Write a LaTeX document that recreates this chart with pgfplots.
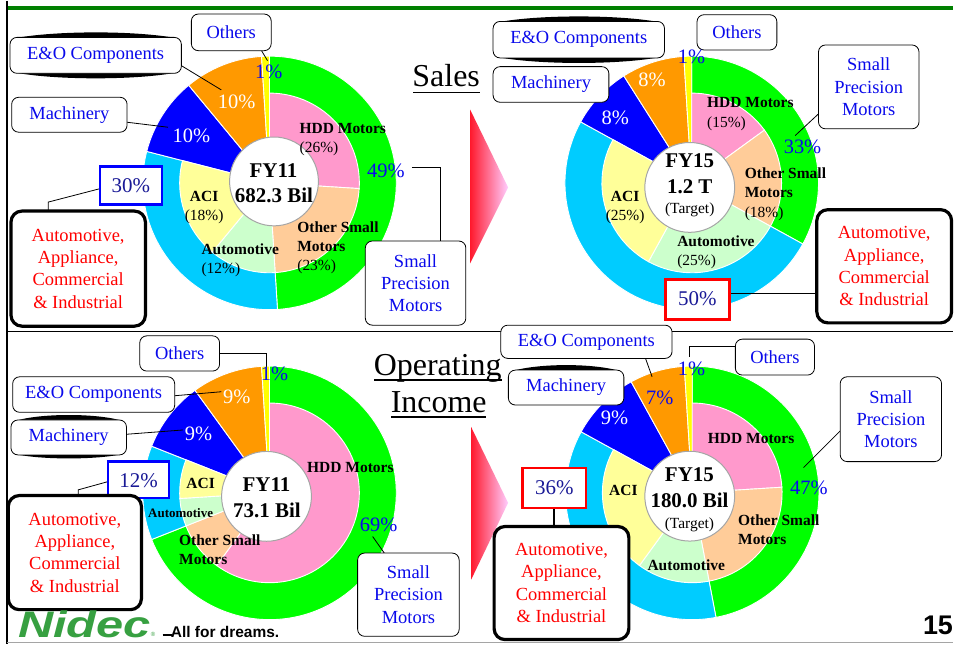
\documentclass[border=0pt]{standalone}
\usepackage{pgfplots}
\pgfplotsset{compat=1.18}
\usepackage{graphicx}
\usepackage{fontspec}
\setmainfont{Liberation Serif}
\newfontfamily\sansfont{Liberation Sans}

\definecolor{sgreen}{RGB}{0,255,0}
\definecolor{scyan}{RGB}{0,204,255}
\definecolor{sblue}{RGB}{0,0,255}
\definecolor{sorange}{RGB}{255,153,0}
\definecolor{syellow}{RGB}{255,255,0}
\definecolor{spink}{RGB}{255,153,204}
\definecolor{speach}{RGB}{255,204,153}
\definecolor{slgreen}{RGB}{204,255,204}
\definecolor{slyellow}{RGB}{255,255,153}
\definecolor{tblue}{RGB}{10,10,235}
\definecolor{tnavy}{RGB}{25,25,150}
\definecolor{tred}{RGB}{255,0,0}
\definecolor{cgray}{RGB}{165,165,165}
\definecolor{lgreen}{RGB}{0,128,0}
\definecolor{logogreen}{RGB}{55,160,65}
\definecolor{ared}{RGB}{255,25,45}
\definecolor{apink}{RGB}{255,205,255}

\newcommand{\fs}[2]{\fontsize{#1}{#2}\selectfont}

% draws the sectors of one ring (full wedges from the centre), values in percent
\newcommand{\ring}[4]{%
  \gdef\cum{0}%
  \foreach \v/\c in {#4}{%
    \pgfmathsetmacro\aA{90-3.6*\cum}%
    \pgfmathsetmacro\aB{90-3.6*(\cum+\v)}%
    \pgfmathsetmacro\newcum{\cum+\v}%
    \xdef\cum{\newcum}%
    \edef\next{\noexpand\fill[\c,draw=white,line width=0.9pt] (axis cs:#1,#2) -- ++(\aA:#3pt) arc[start angle=\aA,end angle=\aB,radius=#3pt] -- cycle;}%
    \next
  }%
}

\tikzset{
  lbox/.style={draw=black,line width=0.8pt,rounded corners=7pt,fill=white},
  bigbox/.style={draw=black,line width=3.2pt,rounded corners=11pt,fill=white},
  lbl/.style={font=\fs{18.5}{22.4},text=tblue,align=center,inner sep=0pt},
  rlbl/.style={font=\fs{18.5}{22.4},text=tred,align=center,inner sep=0pt},
  pwt/.style={font=\fs{20.5}{24},text=white,anchor=base,inner sep=0pt},
  pbt/.style={font=\fs{20.5}{24},text=tblue,anchor=base,inner sep=0pt},
  pnt/.style={font=\fs{21}{24},text=tnavy,anchor=base,inner sep=0pt},
  ilb/.style={font=\fs{15.5}{18}\bfseries,text=black,anchor=base,inner sep=0pt},
  iln/.style={font=\fs{15.5}{18},text=black,anchor=base,inner sep=0pt},
  ctb/.style={font=\fs{21}{24}\bfseries,text=black,anchor=base,inner sep=0pt},
  ldr/.style={draw=black,line width=0.8pt},
}

\begin{document}
\begin{tikzpicture}
\begin{axis}[x=1pt,y=1pt,y dir=reverse,xmin=0,xmax=955,ymin=0,ymax=644,
  hide axis,clip=false,anchor=origin]
\fill[white] (0,0) rectangle (955,644);

% ---------- donuts ----------
% FY11 sales
\ring{270}{182.5}{127}{49/sgreen,30/scyan,10/sblue,10/sorange,1/syellow}
\ring{270}{182.5}{90}{26/spink,23/speach,12/slgreen,18/slyellow}
\draw[fill=white,draw=cgray,line width=1pt] (274.5,181) circle[radius=44.5pt];
% FY15 sales
\ring{693}{182.5}{127}{33/sgreen,50/scyan,8/sblue,8/sorange,1/syellow}
\ring{693}{182.5}{90}{15/spink,18/speach,25/slgreen,25/slyellow}
\draw[fill=white,draw=cgray,line width=1pt] (691,187) circle[radius=45pt];
% FY11 operating income
\ring{270}{493}{127}{69/sgreen,12/scyan,9/sblue,9/sorange,1/syellow}
\ring{270}{493}{90}{60/spink,9/speach,5/slgreen,7/slyellow}
\draw[fill=white,draw=cgray,line width=1pt] (267,496.5) circle[radius=45pt];
% FY15 operating income
\ring{693.5}{493}{127}{47/sgreen,36/scyan,9/sblue,7/sorange,1/syellow}
\ring{693.5}{493}{90}{24/spink,23/speach,13/slgreen,23/slyellow}
\draw[fill=white,draw=cgray,line width=1pt] (691,496.3) circle[radius=45pt];

% ---------- frame ----------
\draw[black,line width=1.5pt] (7,0) -- (7,644);
\draw[lgreen,line width=3.5pt] (7.75,7.5) -- (955,7.5);
\draw[black,line width=1pt] (7,331) -- (955,331);
\draw[cgray,line width=1pt] (7,642.5) -- (955,642.5);

% ---------- titles and arrows ----------
\node[anchor=base,inner sep=0pt,font=\fs{32}{36}] at (447,86) {Sales};
\draw[line width=1.3pt] (414,92) -- (481,92);
\node[anchor=base,inner sep=0pt,font=\fs{32}{36}] at (438.5,375) {Operating};
\draw[line width=1.3pt] (375,380) -- (503,380);
\node[anchor=base,inner sep=0pt,font=\fs{32}{36}] at (439.5,412) {Income};
\draw[line width=1.3pt] (392,417) -- (487,417);
\shade[left color=ared,right color=apink] (471,109) -- (509,187) -- (471,263) -- cycle;
\shade[left color=ared,right color=apink] (472,427) -- (509,503) -- (472,580) -- cycle;

% ================= FY11 sales labels =================
\draw[ldr] (262,50) -- (268,60);
\draw[lbox] (191.7,13.3) rectangle (271.7,50);
\node[lbl] at (231.7,31.7) {Others};
\fill[black] (14,37.7) .. controls (55,29.7) and (137,29.7) .. (178,37.7) -- cycle;
\fill[black] (14,71.7) .. controls (55,79.7) and (137,79.7) .. (178,71.7) -- cycle;
\draw[ldr] (181.7,65) -- (221.7,89.3);
\draw[lbox] (10,36.7) rectangle (181.7,72.7);
\node[lbl] at (95.8,54.7) {E\&O Components};
\draw[ldr] (127.3,121.7) -- (168.3,126.7);
\draw[lbox] (11.7,96.7) rectangle (127.3,131.7);
\node[lbl] at (69.5,114.2) {Machinery};
\node[pwt] at (237,108.3) {10\%};
\node[pwt] at (191.7,141.7) {10\%};
\node[pbt] at (269.3,78.3) {1\%};
\node[pbt] at (386.7,176.7) {49\%};
\draw[ldr] (412.7,167.3) -- (441.7,167.3) -- (441.7,240.7);
\draw[lbox] (366,240.7) rectangle (466.7,325);
\node[lbl] at (416.3,282.9) {Small\\Precision\\Motors};
\draw[ldr] (100,188.3) -- (48.3,201.7) -- (48.3,210.7);
\draw[fill=white,draw=sblue,line width=2.5pt] (100,166) rectangle (162.3,204.3);
\node[pnt] at (131.2,191.7) {30\%};
\draw[bigbox] (11,210.7) rectangle (145.7,326);
\node[rlbl] at (78.3,268.4) {Automotive,\\Appliance,\\Commercial\\\& Industrial};
\node[ilb,anchor=base west] at (300,132.7) {HDD Motors};
\node[iln,anchor=base west] at (300,151.7) {(26\%)};
\node[ilb,anchor=base west] at (297.7,231.7) {Other Small};
\node[ilb,anchor=base west] at (297.7,250.7) {Motors};
\node[iln,anchor=base west] at (297.7,270) {(23\%)};
\node[ilb,anchor=base west] at (201.7,254) {Automotive};
\node[iln,anchor=base west] at (201.7,273.3) {(12\%)};
\node[ilb] at (204.5,201) {ACI};
\node[iln] at (204.5,220) {(18\%)};
\node[ctb] at (274,177) {FY11};
\node[ctb] at (274.5,202) {682.3 Bil};

% ================= FY15 sales labels =================
\fill[black] (498,21.7) .. controls (539,13.7) and (621,13.7) .. (662,21.7) -- cycle;
\fill[black] (498,56.3) .. controls (539,64.3) and (621,64.3) .. (662,56.3) -- cycle;
\draw[lbox] (494,20.7) rectangle (665.7,57.3);
\node[lbl] at (579.8,39) {E\&O Components};
\draw[lbox] (698.3,14) rectangle (778.3,49.3);
\node[lbl] at (738.3,31.7) {Others};
\draw[lbox] (494,66) rectangle (610,101.7);
\node[lbl] at (552,83.8) {Machinery};
\node[pwt] at (653.3,86) {8\%};
\node[pwt] at (616.3,124) {8\%};
\node[pbt] at (692.7,62.7) {1\%};
\node[pbt] at (804,153.3) {33\%};
\draw[ldr] (820,113.3) -- (796.7,135);
\draw[lbox] (820,44.3) rectangle (920.7,128.3);
\node[lbl] at (870.3,86.3) {Small\\Precision\\Motors};
\draw[ldr] (730.7,293.3) -- (818.3,293.3);
\draw[fill=white,draw=red,line width=2.5pt] (666.7,279.3) rectangle (730.7,319.3);
\node[pnt] at (698.7,305) {50\%};
\draw[bigbox] (818.3,209.3) rectangle (953.3,322.7);
\node[rlbl] at (885.8,266) {Automotive,\\Appliance,\\Commercial\\\& Industrial};
\node[ilb,anchor=base west] at (708.3,106.7) {HDD Motors};
\node[iln,anchor=base west] at (708.3,127.3) {(15\%)};
\node[ilb,anchor=base west] at (746,178.3) {Other Small};
\node[ilb,anchor=base west] at (746,197.3) {Motors};
\node[iln,anchor=base west] at (746,216.7) {(18\%)};
\node[ilb,anchor=base west] at (678.3,246) {Automotive};
\node[iln,anchor=base west] at (678.3,265.7) {(25\%)};
\node[ilb] at (626.3,201) {ACI};
\node[iln] at (626.3,220) {(25\%)};
\node[ctb] at (691,166.7) {FY15};
\node[ctb] at (691,193.3) {1.2 T};
\node[iln] at (691,213.3) {(Target)};

% ================= FY11 operating income labels =================
\draw[ldr] (220,353.3) -- (266.7,353.3) -- (266.7,370);
\draw[lbox] (140,335.7) rectangle (220,371);
\node[lbl] at (180,353.3) {Others};
\draw[ldr] (175,395.7) -- (221.7,391.7);
\draw[lbox] (12.7,376.7) rectangle (175,412.3);
\node[lbl] at (93.8,394.5) {E\&O Components};
\fill[black] (15,421) .. controls (40,413) and (98,413) .. (123,421) -- cycle;
\fill[black] (15,454) .. controls (40,460) and (98,460) .. (123,454) -- cycle;
\draw[ldr] (126.7,434.3) -- (183.3,430);
\draw[lbox] (11,420) rectangle (126.7,455);
\node[lbl] at (68.8,437.5) {Machinery};
\node[pwt] at (237.3,403.3) {9\%};
\node[pwt] at (199,441) {9\%};
\node[pbt] at (275,380) {1\%};
\node[pbt] at (379.3,531.7) {69\%};
\draw[ldr] (373.3,536.7) -- (385,553.3);
\draw[lbox] (358.3,553.3) rectangle (460,636.7);
\node[lbl] at (409.2,595) {Small\\Precision\\Motors};
\draw[ldr] (108.3,481.7) -- (78.3,490) -- (78.3,495.7);
\draw[fill=white,draw=sblue,line width=2.5pt] (108.3,461.7) rectangle (169.3,498.3);
\node[pnt] at (138.8,487.3) {12\%};
\draw[bigbox] (8.3,495.7) rectangle (141.7,610);
\node[rlbl] at (75,552.8) {Automotive,\\Appliance,\\Commercial\\\& Industrial};
\node[ilb] at (351,472.7) {HDD Motors};
\node[ilb] at (201,488.3) {ACI};
\node[ilb,font=\fs{13}{15}\bfseries] at (181,517.7) {Automotive};
\node[ilb,anchor=base west] at (179.3,546) {Other Small};
\node[ilb,anchor=base west] at (179.3,565) {Motors};
\node[ctb] at (267,491.7) {FY11};
\node[ctb] at (267.5,517.7) {73.1 Bil};

% ================= FY15 operating income labels =================
\draw[ldr] (646.7,358.3) -- (653.3,376.7);
\draw[lbox] (501.7,325) rectangle (673.3,358.3);
\node[lbl] at (587.5,341.7) {E\&O Components};
\fill[black] (513,371) .. controls (540,363) and (595,363) .. (621,371) -- cycle;
\draw[lbox] (509.3,370) rectangle (625,405);
\node[lbl] at (567.2,387.5) {Machinery};
\draw[ldr] (736.7,346.7) -- (690.7,346.7) -- (690.7,357);
\draw[lbox] (736.7,339) rectangle (816,375);
\node[lbl] at (776.3,357) {Others};
\node[pbt] at (661,404.3) {7\%};
\node[pwt] at (615.7,425) {9\%};
\node[pbt] at (692.7,375.7) {1\%};
\node[pbt] at (810.3,495) {47\%};
\draw[ldr] (841.7,431) -- (805,467.7);
\draw[lbox] (841.7,376.7) rectangle (943.3,461.7);
\node[lbl] at (892.5,419.2) {Small\\Precision\\Motors};
\draw[ldr,line width=1.5pt] (555,508.3) -- (555,526.7);
\draw[fill=white,draw=red,line width=2.5pt] (523.3,468.3) rectangle (587.3,508.3);
\node[pnt] at (555.3,495) {36\%};
\draw[bigbox] (495,526.7) rectangle (630,640);
\node[rlbl] at (562.5,583.3) {Automotive,\\Appliance,\\Commercial\\\& Industrial};
\node[ilb] at (752.5,443.3) {HDD Motors};
\node[ilb] at (624.5,495.7) {ACI};
\node[ilb] at (687.5,571) {Automotive};
\node[ilb,anchor=base west] at (739.3,526) {Other Small};
\node[ilb,anchor=base west] at (739.3,545) {Motors};
\node[ctb] at (690.7,481.7) {FY15};
\node[ctb] at (690.8,507.7) {180.0 Bil};
\node[iln] at (690.7,528.3) {(Target)};

% ---------- logo and page number ----------
\node[anchor=base west,inner sep=0pt,text=logogreen,font=\sansfont\bfseries\itshape\fs{37}{38}] at (18,638) {\scalebox{1.32}[1]{Nidec}};
\node[anchor=base west,inner sep=0pt,text=logogreen,font=\sansfont\fs{6}{6}] at (151,637) {®};
\draw[black,line width=1.6pt] (163,635.5) -- (172,635.5);
\node[anchor=base west,inner sep=0pt,font=\sansfont\bfseries\fs{15.5}{16}] at (171,638) {All for dreams.};
\node[anchor=base,inner sep=0pt,font=\sansfont\bfseries\fs{27}{30}] at (939.7,635) {15};
\end{axis}
\end{tikzpicture}
\end{document}
